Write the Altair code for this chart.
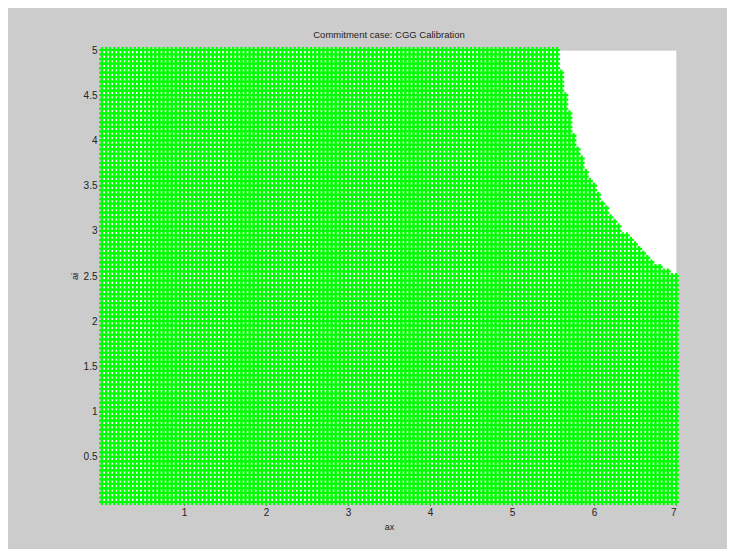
import altair as alt
import numpy as np
import pandas as pd

# Determinacy-region boundary (upper-right corner is excluded)
boundary_ai = [2.50, 2.53, 2.64, 2.82, 3.00, 3.19, 3.38, 3.56, 3.75, 4.00, 4.26, 4.48, 4.78, 5.00]
boundary_ax = [7.00, 6.96, 6.76, 6.56, 6.34, 6.20, 6.07, 5.97, 5.87, 5.77, 5.71, 5.66, 5.60, 5.585]

# Sampling grid of the parameter search
ax_values = np.round(np.arange(0.0, 7.0 + 1e-9, 0.05), 2)
ai_values = np.round(np.arange(0.0, 5.0 + 1e-9, 0.05), 2)

x_ticks = [1, 2, 3, 4, 5, 6, 7]
y_ticks = [0.5, 1, 1.5, 2, 2.5, 3, 3.5, 4, 4.5, 5]

rows = []
for ai in ai_values:
    limit = 7.0 if ai <= boundary_ai[0] else float(np.interp(ai, boundary_ai, boundary_ax))
    for ax in ax_values:
        if ax <= limit + 1e-9:
            rows.append({"ax": float(ax), "ai": float(ai)})
df = pd.DataFrame(rows)

plus = "M-1,0L1,0M0,-1L0,1"

axis_common = dict(grid=False, domain=False, tickSize=3, tickColor="#222",
                   labelFontSize=10, labelColor="#222", labelPadding=2,
                   titleFontSize=9, titleFontWeight="normal", titleColor="#222",
                   labelFont="Liberation Sans", titleFont="Liberation Sans", format="~g")

chart = alt.Chart(df).mark_point(
    shape=plus, size=36, filled=False, color="#00ff00", strokeWidth=2.2, opacity=1
).encode(
    x=alt.X("ax:Q", scale=alt.Scale(domain=[0, 7], nice=False, zero=False),
            axis=alt.Axis(values=x_ticks, title="ax", titlePadding=5, **axis_common)),
    y=alt.Y("ai:Q", scale=alt.Scale(domain=[0, 5], nice=False, zero=False),
            axis=alt.Axis(values=y_ticks, title="ai", titlePadding=4, **axis_common)),
).properties(
    width=574, height=452,
    title=alt.TitleParams("Commitment case: CGG Calibration", fontSize=9.5,
                          fontWeight="normal", color="#222", offset=3,
                          font="Liberation Sans"),
    background="#cccccc",
    padding={"left": 94, "top": 42, "right": 51, "bottom": 47},
    autosize=alt.AutoSizeParams(type="none"),
).configure_view(
    fill="white", stroke="#dcdcdc", strokeWidth=1
)

chart.save("out.html", embed_options={"renderer": "svg", "actions": False})
